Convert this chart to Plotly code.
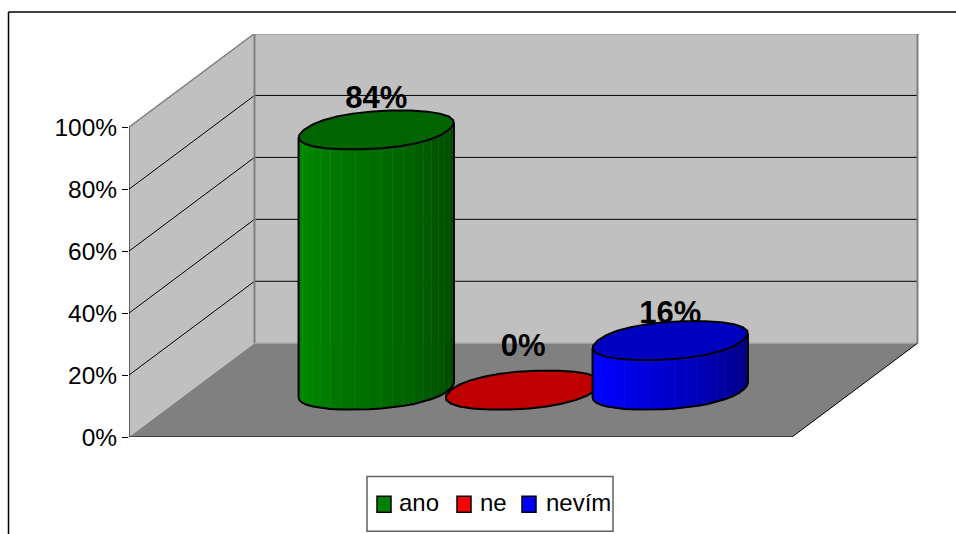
import math
import plotly.graph_objects as go

# Survey shares, one cylinder per answer
categories = ["ano", "ne", "nevím"]
shares = [84, 0, 16]
tick_values = [0, 20, 40, 60, 80, 100]
tick_labels = ["0%", "20%", "40%", "60%", "80%", "100%"]

FONT = "Liberation Sans, Arial, sans-serif"
WIDTH, HEIGHT = 956, 534

# Plot area in page pixels; x data units equal pixels, y data units are percent
LEFT, RIGHT, TOP, BOTTOM = 129, 919, 33.5, 437.5
PX_PER_PCT = 3.105
FLOOR_W = 663          # front edge of the floor
DEPTH_X = 125.5        # oblique shift of the back plane
DEPTH_PCT = 94 / PX_PER_PCT
Y_MAX = (BOTTOM - TOP) / PX_PER_PCT

SLOT = FLOOR_W * 0.2217
CENTERS = [FLOOR_W / 2 + (i - 1) * SLOT for i in range(3)]
RADIUS = 72.5
DISC_SHEAR = 24        # horizontal lean of the disc, in x units
DISC_RISE = 19.5 / PX_PER_PCT
DISC_POWER = 0.9       # below 1 gives the discs blunter ends
SEGMENTS = 20

WALL = "#c0c0c0"
FLOOR = "#808080"
TOP_COLORS = ["#006400", "#c00000", "#0000c0"]
# channel that carries the hue: (brightest, darkest) level along the side
SIDE_CHANNEL = [(1, 132, 72), (0, 255, 120), (2, 255, 125)]
LEGEND_COLORS = ["#008000", "#ff0000", "#0000ff"]
LABEL_LIFT_PX = [30, 42, 25]

# Legend layout in page pixels
LEGEND_BOX = (367, 477, 613, 532)
LEGEND_SWATCH_X = [377, 457, 522]
LEGEND_TEXT_X = [399, 480, 546]
LEGEND_SWATCH_Y = (497, 513)
LEGEND_TEXT_Y = 503


def project(x, pct, depth):
    """Oblique projection: depth 0 is the front plane, 1 the back wall."""
    return x + depth * DEPTH_X, pct + depth * DEPTH_PCT


def blunt(v):
    return math.copysign(abs(v) ** DISC_POWER, v)


def ring(center, pct, t):
    c, s = blunt(math.cos(t)), blunt(math.sin(t))
    return project(center + RADIUS * c + DISC_SHEAR * s, pct + DISC_RISE * s, 0.5)


fig = go.Figure()


def poly(points, fill, line=None, width=0):
    xs = [p[0] for p in points] + [points[0][0]]
    ys = [p[1] for p in points] + [points[0][1]]
    fig.add_trace(go.Scatter(
        x=xs, y=ys, mode="lines", fill="toself", fillcolor=fill,
        line=dict(color=line or fill, width=width), hoverinfo="skip",
        showlegend=False, cliponaxis=False,
    ))


def segment(a, b, color, width):
    fig.add_trace(go.Scatter(
        x=[a[0], b[0]], y=[a[1], b[1]], mode="lines",
        line=dict(color=color, width=width), hoverinfo="skip",
        showlegend=False, cliponaxis=False,
    ))


# Walls and floor
poly([project(0, 0, 0), project(0, 100, 0), project(0, 100, 1), project(0, 0, 1)], WALL)
poly([project(0, 0, 1), project(0, 100, 1), project(FLOOR_W, 100, 1), project(FLOOR_W, 0, 1)], WALL)
poly([project(0, 0, 0), project(FLOOR_W, 0, 0), project(FLOOR_W, 0, 1), project(0, 0, 1)], FLOOR)

# Gridlines across the side wall and the back wall
for v in tick_values[1:-1]:
    segment(project(0, v, 0), project(0, v, 1), "#000000", 1)
    segment(project(0, v, 1), project(FLOOR_W, v, 1), "#000000", 1)

# Wall outlines
segment(project(0, 100, 0), project(0, 100, 1), "#808080", 1.5)
segment(project(0, 100, 1), project(FLOOR_W, 100, 1), "#909090", 2)
segment(project(0, 0, 1), project(0, 100, 1), "#808080", 2)
segment(project(FLOOR_W, 0, 1), project(FLOOR_W, 100, 1), "#808080", 2)
segment(project(0, 0, 1), project(FLOOR_W, 0, 1), "#a0a0a0", 1.5)

# Floor front edges and the value axis line
segment(project(0, 0, 0), project(FLOOR_W, 0, 0), "#000000", 1)
segment(project(FLOOR_W, 0, 0), project(FLOOR_W, 0, 1), "#000000", 1)
segment(project(0, 0, 0), project(0, 100, 0), "#000000", 1)

# Value labels sit behind the cylinders
for center, value, lift in zip(CENTERS, shares, LABEL_LIFT_PX):
    px, py = project(center, value, 0.5)
    fig.add_trace(go.Scatter(
        x=[px], y=[py + lift / PX_PER_PCT], mode="text", text=[f"{value}%"],
        textposition="middle center", hoverinfo="skip", showlegend=False,
        textfont=dict(family=FONT, size=31, color="#000000", weight="bold"),
        cliponaxis=False,
    ))

# The disc's left silhouette point decides where the visible shaft starts
scan = [math.pi + math.pi * k / 360 for k in range(-180, 181)]
start = min(scan, key=lambda t: ring(0, 0, t)[0])

# Cylinders, left to right so each one overlaps its left neighbour
for i, (center, value) in enumerate(zip(CENTERS, shares)):
    channel, bright, dark = SIDE_CHANNEL[i]
    if value > 0:
        sweep = math.pi
        outline = []
        for k in range(SEGMENTS):
            t0 = start + sweep * k / SEGMENTS
            t1 = start + sweep * (k + 1) / SEGMENTS
            f = k / (SEGMENTS - 1)
            level = bright if f < 0.15 else bright + (dark - bright) * (f - 0.15) / 0.85
            rgb = [0, 0, 0]
            rgb[channel] = int(level)
            seam = list(rgb)
            seam[channel] = int(min(255, level + 14))
            poly([ring(center, 0, t0), ring(center, 0, t1),
                  ring(center, value, t1), ring(center, value, t0)],
                 f"rgb({rgb[0]},{rgb[1]},{rgb[2]})",
                 f"rgb({seam[0]},{seam[1]},{seam[2]})", 0.6)
            outline.append(ring(center, 0, t0))
        outline.append(ring(center, 0, start + sweep))
        # shaft silhouette
        segment(ring(center, 0, start), ring(center, value, start), "#000000", 2)
        segment(ring(center, 0, start + sweep), ring(center, value, start + sweep), "#000000", 2)
        fig.add_trace(go.Scatter(
            x=[p[0] for p in outline], y=[p[1] for p in outline], mode="lines",
            line=dict(color="#000000", width=2), hoverinfo="skip",
            showlegend=False, cliponaxis=False,
        ))
    disc = [ring(center, value, 2 * math.pi * k / 26) for k in range(26)]
    poly(disc, TOP_COLORS[i], "#000000", 2)


def paper_x(px):
    return (px - LEFT) / (RIGHT - LEFT)


def paper_y(py):
    return (BOTTOM - py) / (BOTTOM - TOP)


# Outer frame: only the top and left sides are visible
frame = dict(type="line", xref="paper", yref="paper", line=dict(color="#000000", width=1.5))
shapes = [
    dict(frame, x0=paper_x(8.5), x1=paper_x(WIDTH + 5), y0=paper_y(11.5), y1=paper_y(11.5)),
    dict(frame, x0=paper_x(8.5), x1=paper_x(8.5), y0=paper_y(11.5), y1=paper_y(HEIGHT + 5)),
]

# Legend box, swatches and names
x0, y0, x1, y1 = LEGEND_BOX
shapes.append(dict(
    type="rect", xref="paper", yref="paper",
    x0=paper_x(x0), x1=paper_x(x1), y0=paper_y(y0), y1=paper_y(y1),
    line=dict(color="#606060", width=1.5), fillcolor="#ffffff",
))
annotations = []
for name, color, sx, tx in zip(categories, LEGEND_COLORS, LEGEND_SWATCH_X, LEGEND_TEXT_X):
    shapes.append(dict(
        type="rect", xref="paper", yref="paper",
        x0=paper_x(sx), x1=paper_x(sx + 14),
        y0=paper_y(LEGEND_SWATCH_Y[0]), y1=paper_y(LEGEND_SWATCH_Y[1]),
        line=dict(color="#000000", width=1.5), fillcolor=color,
    ))
    annotations.append(dict(
        xref="paper", yref="paper", x=paper_x(tx), y=paper_y(LEGEND_TEXT_Y),
        xanchor="left", yanchor="middle", text=name, showarrow=False,
        borderpad=0, borderwidth=0, align="left",
        font=dict(family=FONT, size=24, color="#000000"),
    ))

fig.update_layout(
    width=WIDTH, height=HEIGHT, autosize=False, showlegend=False,
    margin=dict(l=LEFT, r=WIDTH - RIGHT, t=TOP, b=HEIGHT - BOTTOM, pad=0),
    paper_bgcolor="#ffffff", plot_bgcolor="#ffffff",
    font=dict(family=FONT, size=24.5, color="#000000"),
    shapes=shapes, annotations=annotations,
    xaxis=dict(range=[0, RIGHT - LEFT], visible=False, fixedrange=True),
    yaxis=dict(
        range=[0, Y_MAX], tickmode="array", tickvals=tick_values, ticktext=tick_labels,
        ticks="outside", ticklen=6, tickcolor="#000000", tickwidth=1,
        showgrid=False, zeroline=False, showline=False, fixedrange=True,
        tickfont=dict(family=FONT, size=24.5, color="#000000"),
    ),
)

fig.write_html("out.html", config=dict(displayModeBar=False))
